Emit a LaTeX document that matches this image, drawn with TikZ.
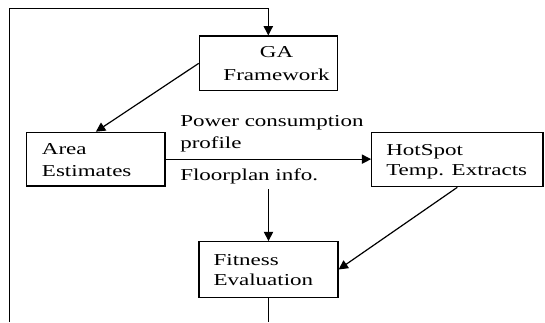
\documentclass[tikz,border=0pt]{standalone}
\usepackage{fontspec}
\setmainfont{Liberation Serif}[FakeStretch=1.38]
\usetikzlibrary{arrows.meta,fit}
\begin{document}
\begin{tikzpicture}[x=0.75pt,y=-0.75pt,
  box/.style={draw, line width=0.9pt, inner sep=0pt},
  txt/.style={anchor=base west, inner sep=0pt, font=\fontsize{12.5}{15}\selectfont},
  txtc/.style={anchor=base, inner sep=0pt, font=\fontsize{12.5}{15}\selectfont},
  conn/.style={line width=0.9pt},
  arr/.style={conn, -{Triangle[length=7pt,width=7pt]}}]
\useasboundingbox (0,0) rectangle (545,322);
% boxes
\node[box, fit={(199.3,36) (337.3,90.7)}] (ga) {};
\node[box, fit={(26.7,132.3) (165,186)}] (area) {};
\node[box, fit={(371.7,132.7) (543,186.7)}] (hs) {};
\node[box, fit={(199,241.7) (338,297.3)}] (fit) {};
% texts
\node[txtc] (t1) at (276.5,57.5) {GA};
\node[txtc] (t2) at (276.5,80) {Framework};
\node[txt] (t3) at (41.7,154.3) {Area};
\node[txt] (t4) at (41.7,176) {Estimates};
\node[txt] (t5) at (386,155) {HotSpot};
\node[txt] (t6) at (386,175.5) {Temp. Extracts};
\node[txt] (t7) at (213.3,265) {Fitness};
\node[txt] (t8) at (213.3,285) {Evaluation};
\node[txt] (t9) at (180,126.5) {Power consumption};
\node[txt] (t10) at (180,148.5) {profile};
\node[txt] (t11) at (180,180.5) {Floorplan info.};
% connectors
\coordinate (lb) at (9.3,322);
\coordinate (lt) at (9.3,8.3);
\coordinate (fp) at (268.5,189);
\coordinate (fb) at (268.5,322);
\draw[arr] (lb) -- (lt) -| (ga.north);
\draw[arr] (ga.west) -- (area.north);
\draw[arr] (area.east) -- (area.east -| hs.west);
\draw[arr] (fp) -- (fit.north);
\draw[arr] (hs.south) -- (fit.east);
\draw[conn] (fit.south) -- (fb);
\end{tikzpicture}
\end{document}
